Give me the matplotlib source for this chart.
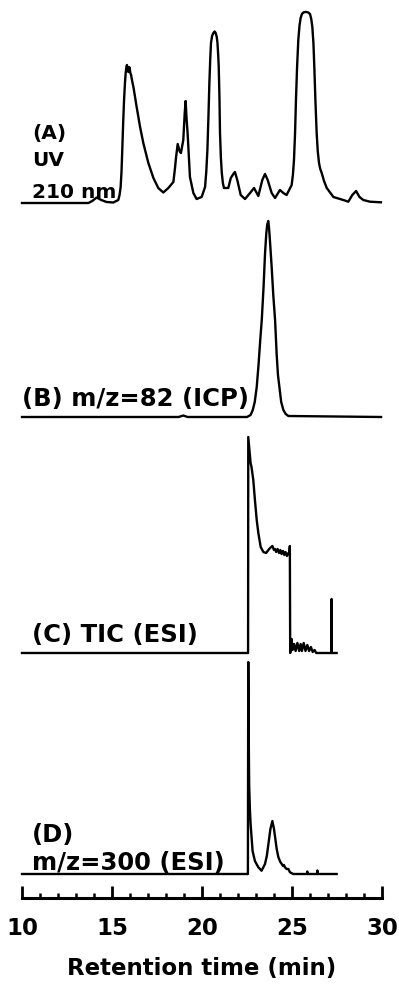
import matplotlib
matplotlib.use('Agg')
import matplotlib.pyplot as plt
from matplotlib.ticker import MultipleLocator

plt.rcParams['font.family'] = ['DejaVu Sans']
plt.rcParams['font.weight'] = 'bold'

# ------------------------------------------------------------
# data (time in min, signal in a.u.)
# ------------------------------------------------------------
uv_t = [10.0, 13.69, 13.9, 14.15, 14.4, 14.7, 15.07, 15.35, 15.42, 15.48,
        15.53, 15.57, 15.62, 15.67, 15.72, 15.76, 15.80, 15.83, 15.87, 15.91,
        15.95, 15.98, 16.02, 16.06, 16.12, 16.19, 16.28, 16.37, 16.56, 16.74,
        17.02, 17.30, 17.57, 17.85, 18.13, 18.41, 18.50, 18.56, 18.65, 18.75,
        18.83, 18.96, 19.04, 19.09, 19.14, 19.20, 19.33, 19.52, 19.70, 19.98,
        20.17, 20.24, 20.30, 20.36, 20.41, 20.46, 20.50, 20.56, 20.63, 20.70,
        20.76, 20.82, 20.86, 20.90, 20.93, 20.97, 21.0, 21.05, 21.1, 21.16,
        21.22, 21.46, 21.6, 21.74, 21.83, 21.96, 22.15, 22.39, 22.67, 22.89,
        23.13, 23.35, 23.5, 23.65, 23.87, 24.06, 24.33, 24.52, 24.70, 24.98,
        25.05, 25.11, 25.17, 25.22, 25.28, 25.35, 25.42, 25.48, 25.55, 25.63,
        25.72, 25.81, 25.90, 26.0, 26.07, 26.13, 26.19, 26.24, 26.30, 26.37,
        26.43, 26.5, 26.57, 26.65, 26.78, 26.93, 27.3, 27.85, 28.13, 28.35,
        28.56, 28.75, 28.96, 29.33, 29.94]
uv_y = [0, 0, 2, 5.5, 3, 1, 0.5, 3, 8, 16,
        32, 53, 80, 103, 120, 130, 136, 138, 133, 131,
        136, 135, 130, 128, 122, 116, 106, 96, 76, 60,
        40, 25, 15, 10.5, 15, 21, 35, 46, 59, 52,
        50, 63, 90, 102, 85, 70, 26, 10, 4, 6,
        16, 32, 53, 88, 120, 145, 160, 167, 170, 171.5,
        170, 166, 160, 148, 136, 105, 70, 45, 30, 20,
        15, 15, 25, 29, 31, 23, 8, 4, 10, 15,
        7, 23, 29, 23, 10, 5, 13, 10, 8, 18,
        28, 43, 70, 103, 135, 163, 178, 185, 189, 190.5,
        191, 191, 190.5, 189, 184, 176, 160, 136, 103, 70,
        52, 40, 34, 30, 22, 15, 6, 3, 1.3, 8,
        12, 6, 3, 1.3, 0.7]

icp_t = [10.0, 18.7, 18.96, 19.2, 22.5, 22.7, 22.82, 22.93, 23.04, 23.14,
         23.24, 23.32, 23.42, 23.5, 23.57, 23.62, 23.68, 23.73, 23.78, 23.87,
         23.96, 24.06, 24.15, 24.22, 24.3, 24.4, 24.52, 24.65, 24.8, 29.95]
icp_y = [0, 0, 1.5, 0, 0, 2, 7, 15, 30, 52,
         78, 97, 130, 163, 183, 192, 196, 188, 175, 150,
         122, 97, 62, 42, 30, 15, 7, 3, 1, 0]

tic_t = [10.0, 22.56, 22.57, 22.7, 22.75, 22.85, 22.94, 23.04, 23.13, 23.26,
         23.41, 23.56, 23.69, 23.78, 23.91, 24.0, 24.06, 24.12, 24.2, 24.28,
         24.35, 24.42, 24.5, 24.57, 24.64, 24.72, 24.8, 24.85, 24.88, 24.9,
         24.98, 25.03, 25.12, 25.2, 25.3, 25.4, 25.48, 25.55, 25.65, 25.75,
         25.85, 25.95, 26.05, 26.15, 26.25, 26.35, 27.19, 27.2, 27.21, 27.48]
tic_y = [0, 0, 216, 190, 186, 173, 153, 133, 120, 106,
         101, 100, 103, 105, 107, 103, 104, 101, 104, 100,
         103, 99, 102, 98, 101, 97, 100, 99, 107, 0,
         14, 3, 9, 2, 10, 2, 9, 2, 10, 2,
         8, 2, 6, 1, 3, 0, 0, 54, 0, 0]

sim_t = [10.0, 22.55, 22.57, 22.59, 22.62, 22.66, 22.7, 22.81, 22.94, 23.13,
         23.31, 23.5, 23.6, 23.69, 23.8, 23.91, 24.0, 24.06, 24.15, 24.24,
         24.35, 24.43, 24.5, 24.55, 24.61, 24.7, 24.8, 24.85, 24.89, 25.07,
         25.84, 25.85, 25.86, 26.4, 26.41, 26.42, 27.48]
sim_y = [0, 0, 212, 150, 90, 65, 50, 23, 13, 6.7,
         3.3, 10, 18, 30, 45, 53, 45, 37, 25, 17,
         12, 10, 8, 9, 6.7, 5, 5, 3, 1.7, 0,
         0, 2.5, 0, 0, 3.5, 0, 0]

major_ticks = [10, 15, 20, 25, 30]

# ------------------------------------------------------------
# layout (pixels of the 399 x 985 picture)
# ------------------------------------------------------------
W, H, DPI = 399, 985, 100
X_LEFT, X_RIGHT = 22, 382   # columns of 10 and 30 min

fig = plt.figure(figsize=(W / DPI, H / DPI), dpi=DPI)


def panel(bottom_px, ymin, ymax):
    """axes whose y range maps 1 unit -> 1 pixel, bottom at bottom_px"""
    h = ymax - ymin
    ax = fig.add_axes([X_LEFT / W, 1 - bottom_px / H,
                       (X_RIGHT - X_LEFT) / W, h / H])
    ax.set_xlim(10, 30)
    ax.set_ylim(ymin, ymax)
    ax.patch.set_visible(False)
    for s in ax.spines.values():
        s.set_visible(False)
    ax.set_yticks([])
    ax.set_xticks([])
    return ax


LW = 1.7
lab = dict(fontsize=14.5, fontweight='bold', ha='left', va='baseline')
big = dict(fontsize=17.5, fontweight='bold', ha='left', va='baseline')

# (A) UV
axA = panel(203, 0, 203)
axA.plot(uv_t, uv_y, color='black', lw=LW, clip_on=False)
axA.text(10.55, 64, '(A)', **lab)
axA.text(10.55, 37, 'UV', **lab)
axA.text(10.55, 5, '210 nm', **lab)

# (B) ICP-MS m/z 82
axB = panel(417, 0, 200)
axB.plot(icp_t, icp_y, color='black', lw=LW, clip_on=False)
axB.text(10.0, 11, '(B) m/z=82 (ICP)', **big)

# (C) TIC
axC = panel(653, 0, 220)
axC.plot(tic_t, tic_y, color='black', lw=LW, clip_on=False)
axC.text(10.55, 11, '(C) TIC (ESI)', **big)

# (D) SIM m/z 300 + time axis
axD = panel(898, -24, 216)
axD.plot(sim_t, sim_y, color='black', lw=LW, clip_on=False)
axD.text(10.55, 32, '(D)', **big)
axD.text(10.55, 4, 'm/z=300 (ESI)', **big)

axD.spines['bottom'].set_visible(True)
axD.spines['bottom'].set_linewidth(2.2)
axD.set_xticks(major_ticks)
axD.xaxis.set_minor_locator(MultipleLocator(1))
axD.tick_params(axis='x', which='major', direction='in', length=8.5,
                width=2.0, pad=14, labelsize=16.5)
axD.tick_params(axis='x', which='minor', direction='in', length=3.8,
                width=1.8)
for t in axD.get_xticklabels():
    t.set_fontweight('bold')
axD.set_xlabel('Retention time (min)', fontsize=16.5, fontweight='bold',
               labelpad=12)

fig.savefig('out.png', dpi=DPI)
